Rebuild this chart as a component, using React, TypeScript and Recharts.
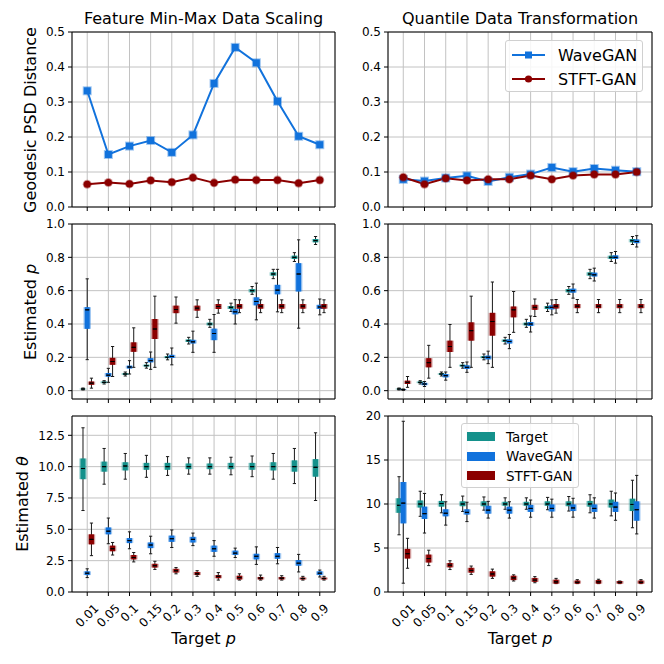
import React from "react";
import {
  ComposedChart, Line, Scatter, ErrorBar, XAxis, YAxis, CartesianGrid, ReferenceArea,
} from "recharts";

// Target p categories (x axis)
const P_LABELS = ["0.01", "0.05", "0.1", "0.15", "0.2", "0.3", "0.4", "0.5", "0.6", "0.7", "0.8", "0.9"];

// Geodesic PSD distance
const PSD_WAVE_MINMAX = [0.332, 0.150, 0.174, 0.190, 0.156, 0.206, 0.353, 0.456, 0.412, 0.302, 0.202, 0.178];
const PSD_STFT_MINMAX = [0.065, 0.070, 0.066, 0.076, 0.071, 0.084, 0.069, 0.078, 0.077, 0.077, 0.068, 0.077];
const PSD_WAVE_QUANT = [0.079, 0.074, 0.083, 0.089, 0.073, 0.085, 0.094, 0.113, 0.101, 0.110, 0.105, 0.101];
const PSD_STFT_QUANT = [0.085, 0.065, 0.082, 0.076, 0.079, 0.079, 0.090, 0.079, 0.090, 0.093, 0.093, 0.100];

// box stats: [whisker low, q1, median, q3, whisker high]
const P_TARGET = [
  [0.004, 0.008, 0.01, 0.012, 0.016], [0.04, 0.045, 0.05, 0.055, 0.06], [0.088, 0.095, 0.1, 0.105, 0.112],
  [0.135, 0.145, 0.15, 0.156, 0.168], [0.185, 0.195, 0.2, 0.207, 0.22], [0.28, 0.292, 0.3, 0.307, 0.32],
  [0.38, 0.392, 0.4, 0.408, 0.428], [0.475, 0.49, 0.5, 0.508, 0.525], [0.578, 0.59, 0.6, 0.61, 0.625],
  [0.672, 0.69, 0.7, 0.71, 0.728], [0.775, 0.79, 0.8, 0.81, 0.828], [0.877, 0.89, 0.9, 0.91, 0.925],
];
const P_WAVE_MINMAX = [
  [0.186, 0.371, 0.485, 0.501, 0.671], [0.05, 0.084, 0.093, 0.106, 0.134], [0.10, 0.133, 0.142, 0.150, 0.18],
  [0.128, 0.17, 0.18, 0.195, 0.232], [0.155, 0.196, 0.205, 0.215, 0.256], [0.23, 0.283, 0.293, 0.305, 0.357],
  [0.23, 0.303, 0.343, 0.372, 0.457], [0.40, 0.458, 0.473, 0.49, 0.546], [0.425, 0.512, 0.535, 0.56, 0.645],
  [0.473, 0.578, 0.603, 0.635, 0.728], [0.375, 0.595, 0.70, 0.765, 0.905], [0.455, 0.49, 0.502, 0.515, 0.55],
];
const P_STFT_MINMAX = [
  [0.015, 0.035, 0.045, 0.055, 0.075], [0.085, 0.155, 0.175, 0.197, 0.265], [0.14, 0.233, 0.26, 0.29, 0.377],
  [0.14, 0.31, 0.37, 0.43, 0.567], [0.405, 0.465, 0.487, 0.51, 0.562], [0.44, 0.48, 0.495, 0.51, 0.545],
  [0.465, 0.49, 0.505, 0.52, 0.545], [0.468, 0.492, 0.507, 0.52, 0.545], [0.468, 0.492, 0.507, 0.52, 0.545],
  [0.468, 0.492, 0.507, 0.52, 0.545], [0.468, 0.492, 0.507, 0.52, 0.545], [0.468, 0.492, 0.507, 0.52, 0.545],
];
const P_WAVE_QUANT = [
  [0.002, 0.004, 0.006, 0.008, 0.01], [0.025, 0.033, 0.04, 0.047, 0.055], [0.063, 0.08, 0.09, 0.1, 0.112],
  [0.11, 0.13, 0.14, 0.152, 0.172], [0.162, 0.188, 0.2, 0.21, 0.237], [0.252, 0.283, 0.295, 0.307, 0.337],
  [0.352, 0.388, 0.40, 0.412, 0.448], [0.455, 0.488, 0.50, 0.512, 0.545], [0.555, 0.588, 0.60, 0.612, 0.64],
  [0.658, 0.685, 0.695, 0.708, 0.735], [0.765, 0.79, 0.80, 0.812, 0.835], [0.862, 0.885, 0.895, 0.907, 0.93],
];
const P_STFT_QUANT = [
  [0.02, 0.04, 0.05, 0.06, 0.085], [0.075, 0.14, 0.168, 0.195, 0.272], [0.14, 0.232, 0.265, 0.3, 0.397],
  [0.14, 0.30, 0.36, 0.41, 0.567], [0.14, 0.33, 0.415, 0.467, 0.652], [0.35, 0.44, 0.485, 0.505, 0.595],
  [0.445, 0.485, 0.50, 0.515, 0.55], [0.465, 0.493, 0.507, 0.52, 0.547], [0.468, 0.495, 0.507, 0.52, 0.547],
  [0.468, 0.495, 0.507, 0.52, 0.547], [0.468, 0.495, 0.507, 0.52, 0.547], [0.468, 0.495, 0.507, 0.52, 0.547],
];

const T_TARGET = [
  [6.5, 9.0, 9.85, 10.65, 13.1], [8.6, 9.6, 10.0, 10.4, 11.45], [9.0, 9.7, 10.05, 10.35, 11.05],
  [9.15, 9.75, 10.0, 10.3, 10.9], [9.3, 9.75, 10.0, 10.3, 10.8], [9.4, 9.8, 10.0, 10.25, 10.7],
  [9.4, 9.8, 10.0, 10.25, 10.7], [9.35, 9.8, 10.0, 10.3, 10.75], [9.2, 9.75, 10.0, 10.3, 10.85],
  [9.0, 9.7, 10.0, 10.35, 11.05], [8.65, 9.6, 10.0, 10.5, 11.45], [7.3, 9.2, 9.95, 10.6, 12.7],
];
const T_WAVE_MINMAX = [
  [1.15, 1.35, 1.5, 1.65, 1.85], [3.85, 4.6, 4.85, 5.15, 5.9], [3.45, 3.9, 4.1, 4.3, 4.8],
  [3.05, 3.5, 3.75, 3.95, 4.45], [3.55, 4.0, 4.25, 4.5, 4.95], [3.7, 3.95, 4.2, 4.4, 4.7],
  [2.85, 3.2, 3.45, 3.7, 4.1], [2.75, 2.95, 3.1, 3.3, 3.5], [2.2, 2.6, 2.85, 3.05, 3.6],
  [2.25, 2.65, 2.85, 3.1, 3.55], [1.6, 2.1, 2.3, 2.55, 3.0], [1.2, 1.35, 1.5, 1.65, 1.75],
];
const T_STFT_MINMAX = [
  [2.9, 3.8, 4.2, 4.6, 5.5], [2.95, 3.25, 3.45, 3.7, 3.95], [2.4, 2.6, 2.75, 2.95, 3.15],
  [1.8, 1.95, 2.1, 2.25, 2.45], [1.45, 1.55, 1.7, 1.85, 1.95], [1.25, 1.35, 1.45, 1.6, 1.7],
  [0.95, 1.1, 1.25, 1.35, 1.55], [0.95, 1.0, 1.15, 1.3, 1.45], [0.95, 1.0, 1.1, 1.2, 1.35],
  [0.95, 1.0, 1.1, 1.2, 1.3], [0.95, 1.0, 1.08, 1.15, 1.25], [0.95, 1.0, 1.08, 1.15, 1.25],
];
const T_WAVE_QUANT = [
  [1.0, 7.8, 10.1, 12.5, 19.4], [6.7, 8.3, 8.9, 9.7, 11.2], [7.6, 8.6, 8.95, 9.4, 10.25],
  [8.0, 8.8, 9.05, 9.4, 10.2], [8.4, 8.9, 9.3, 9.8, 10.3], [8.4, 8.9, 9.3, 9.7, 10.25],
  [8.5, 9.1, 9.5, 9.9, 10.45], [8.5, 9.15, 9.5, 9.95, 10.55], [8.5, 9.2, 9.55, 9.95, 10.65],
  [8.4, 9.1, 9.5, 9.95, 10.7], [8.15, 9.1, 9.65, 10.25, 11.25], [6.6, 8.1, 9.35, 10.3, 13.25],
];
const T_STFT_QUANT = [
  [2.7, 3.8, 4.35, 4.9, 6.1], [3.0, 3.35, 3.8, 4.25, 4.75], [2.55, 2.8, 3.05, 3.3, 3.55],
  [2.0, 2.2, 2.45, 2.75, 2.95], [1.55, 1.75, 2.05, 2.35, 2.6], [1.25, 1.35, 1.6, 1.85, 1.95],
  [1.05, 1.15, 1.35, 1.6, 1.75], [0.95, 0.95, 1.15, 1.4, 1.55], [0.95, 0.95, 1.1, 1.3, 1.4],
  [0.95, 0.95, 1.15, 1.35, 1.45], [0.95, 0.95, 1.1, 1.25, 1.25], [0.95, 0.95, 1.1, 1.3, 1.4],
];

const FONT = '"DejaVu Sans", sans-serif';
const TEAL = "#14918b";
const BLUE = "#1172dc";
const RED = "#8b0000";
const GRID = "#c2c2c2";

const X_DOMAIN: [number, number] = [-0.72, 11.72];
const X_TICKS = P_LABELS.map((_, i) => i);
const COLS = [{ left: 72, right: 335 }, { left: 388, right: 652 }];
const ROWS = [{ top: 32, bottom: 207 }, { top: 224, bottom: 399 }, { top: 416, bottom: 592 }];
const YW = 60;
const XH = 40;

const charWidth = (s: string) => [...s].reduce((a, ch) => a + (ch === "." ? 0.318 : 0.636), 0);

function RotTick(props: any) {
  const { x, y, payload } = props;
  const label = P_LABELS[payload.value];
  const fs = 12;
  const d = ((charWidth(label) * fs + fs * 0.75) * Math.SQRT1_2) / 2;
  return (
    <text transform={`translate(${x},${y + 5 + d}) rotate(-45)`} textAnchor="middle"
      dominantBaseline="central" fontSize={fs} fontFamily={FONT} fill="#000">
      {label}
    </text>
  );
}

const squareDot = (p: any) => (
  <g key={`s${p.index}`}>
    <rect x={p.cx - 4.5} y={p.cy - 4.5} width={9} height={9} fill={BLUE} fillOpacity={0.4} />
    <rect x={p.cx - 3.5} y={p.cy - 3.5} width={7} height={7} fill={BLUE} />
  </g>
);
const circleDot = (p: any) => (
  <g key={`c${p.index}`}>
    <circle cx={p.cx} cy={p.cy} r={4.5} fill={RED} fillOpacity={0.4} />
    <circle cx={p.cx} cy={p.cy} r={3.6} fill={RED} />
  </g>
);

function chartMargin(col: number, row: number) {
  const c = COLS[col];
  const r = ROWS[row];
  return { top: r.top, left: c.left - YW, right: 664 - c.right, bottom: 664 - r.bottom - XH };
}

function axes(yDomain: [number, number], yTicks: number[], fmt: (v: number) => string, xLabels: boolean, yKey?: string) {
  return [
    <CartesianGrid key="g" stroke={GRID} strokeWidth={1} />,
    <XAxis key="x" type="number" dataKey="x" domain={X_DOMAIN} ticks={X_TICKS} interval={0}
      allowDataOverflow height={XH} axisLine={false} tickSize={4} tickLine={{ stroke: "#000" }}
      tick={xLabels ? RotTick : () => null} />,
    <YAxis key="y" type="number" dataKey={yKey} domain={yDomain} ticks={yTicks} interval={0}
      allowDataOverflow width={YW} axisLine={false} tickSize={4} tickMargin={3}
      tickLine={{ stroke: "#000" }} tickFormatter={fmt}
      tick={{ fontSize: 12, fill: "#000", fontFamily: FONT }} />,
    <ReferenceArea key="frame" x1={X_DOMAIN[0]} x2={X_DOMAIN[1]} y1={yDomain[0]} y2={yDomain[1]}
      fill="none" stroke="#000" strokeWidth={1} ifOverflow="visible" />,
  ];
}

function boxSeries(key: string, stats: number[][], offset: number, color: string) {
  const data = stats.map((s, i) => ({ x: i + offset, lo: s[0], q1: s[1], med: s[2], q3: s[3], hi: s[4] }));
  return (
    <Scatter key={key} name={key} data={data} isAnimationActive={false} shape={() => <g />}>
      <ErrorBar direction="y" dataKey={(d: any) => [d.med - d.lo, d.hi - d.med]} width={1.6}
        stroke="#1a1a1a" strokeWidth={1} isAnimationActive={false} />
      <ErrorBar direction="y" dataKey={(d: any) => [d.med - d.q1, d.q3 - d.med]} width={0}
        stroke={color} strokeOpacity={0.4} strokeWidth={7.5} isAnimationActive={false} />
      <ErrorBar direction="y" dataKey={(d: any) => [d.med - d.q1, d.q3 - d.med]} width={0}
        stroke={color} strokeWidth={5} isAnimationActive={false} />
      <ErrorBar direction="y" dataKey={() => [0, 0]} width={2} stroke="#000" strokeWidth={1}
        isAnimationActive={false} />
    </Scatter>
  );
}

const f1 = (v: number) => v.toFixed(1);
const f0 = (v: number) => String(v);

function PsdPanel({ col, wave, stft }: { col: number; wave: number[]; stft: number[] }) {
  const data = P_LABELS.map((_, i) => ({ x: i, wave: wave[i], stft: stft[i] }));
  return (
    <div style={{ position: "absolute", left: 0, top: 0 }}>
      <ComposedChart width={664} height={664} data={data} margin={chartMargin(col, 0)}>
        {axes([0, 0.5], [0, 0.1, 0.2, 0.3, 0.4, 0.5], f1, false)}
        <Line dataKey="wave" stroke={BLUE} strokeWidth={2} dot={squareDot} isAnimationActive={false} />
        <Line dataKey="stft" stroke={RED} strokeWidth={2} dot={circleDot} isAnimationActive={false} />
      </ComposedChart>
    </div>
  );
}

function BoxPanel(props: {
  col: number; row: number; yDomain: [number, number]; yTicks: number[]; fmt: (v: number) => string;
  target: number[][]; wave: number[][]; stft: number[][];
}) {
  const { col, row, yDomain, yTicks, fmt, target, wave, stft } = props;
  return (
    <div style={{ position: "absolute", left: 0, top: 0 }}>
      <ComposedChart width={664} height={664} margin={chartMargin(col, row)}>
        {axes(yDomain, yTicks, fmt, row === 2, "med")}
        {boxSeries("Target", target, -0.2, TEAL)}
        {boxSeries("WaveGAN", wave, 0, BLUE)}
        {boxSeries("STFT-GAN", stft, 0.2, RED)}
      </ComposedChart>
    </div>
  );
}

function Txt({ x, y, rotate, children }: { x: number; y: number; rotate?: boolean; children: React.ReactNode }) {
  return (
    <div style={{
      position: "absolute", left: x, top: y, fontFamily: FONT, fontSize: 16, lineHeight: 1,
      whiteSpace: "nowrap", color: "#000",
      transform: `translate(-50%, -50%)${rotate ? " rotate(-90deg)" : ""}`,
    }}>
      {children}
    </div>
  );
}

const LINE_LEGEND = [
  { name: "WaveGAN", color: BLUE, marker: "square" },
  { name: "STFT-GAN", color: RED, marker: "circle" },
];
const BOX_LEGEND = [
  { name: "Target", color: TEAL },
  { name: "WaveGAN", color: BLUE },
  { name: "STFT-GAN", color: RED },
];

const legendBox: React.CSSProperties = {
  position: "absolute", background: "rgba(255,255,255,0.85)", border: "1px solid #d0d0d0",
  borderRadius: 3, fontFamily: FONT, boxSizing: "border-box",
};

export default function App() {
  return (
    <div style={{ position: "absolute", left: 0, top: 0, width: 664, height: 664, background: "#fff", overflow: "hidden" }}>
      <PsdPanel col={0} wave={PSD_WAVE_MINMAX} stft={PSD_STFT_MINMAX} />
      <PsdPanel col={1} wave={PSD_WAVE_QUANT} stft={PSD_STFT_QUANT} />
      <BoxPanel col={0} row={1} yDomain={[-0.05, 1.0]} yTicks={[0, 0.2, 0.4, 0.6, 0.8, 1.0]} fmt={f1}
        target={P_TARGET} wave={P_WAVE_MINMAX} stft={P_STFT_MINMAX} />
      <BoxPanel col={1} row={1} yDomain={[-0.05, 1.0]} yTicks={[0, 0.2, 0.4, 0.6, 0.8, 1.0]} fmt={f1}
        target={P_TARGET} wave={P_WAVE_QUANT} stft={P_STFT_QUANT} />
      <BoxPanel col={0} row={2} yDomain={[0, 14.04]} yTicks={[0, 2.5, 5, 7.5, 10, 12.5]} fmt={f1}
        target={T_TARGET} wave={T_WAVE_MINMAX} stft={T_STFT_MINMAX} />
      <BoxPanel col={1} row={2} yDomain={[0, 20]} yTicks={[0, 5, 10, 15, 20]} fmt={f0}
        target={T_TARGET} wave={T_WAVE_QUANT} stft={T_STFT_QUANT} />

      <Txt x={203.5} y={19}>Feature Min-Max Data Scaling</Txt>
      <Txt x={520} y={19}>Quantile Data Transformation</Txt>
      <Txt x={31} y={119.5} rotate>Geodesic PSD Distance</Txt>
      <Txt x={31} y={311.5} rotate>Estimated <i>p</i></Txt>
      <Txt x={23} y={504} rotate>Estimated <i>θ</i></Txt>
      <Txt x={203.5} y={639}>Target <i>p</i></Txt>
      <Txt x={520} y={639}>Target <i>p</i></Txt>

      <div style={{ ...legendBox, left: 505, top: 40, width: 138, height: 52, fontSize: 16 }}>
        {LINE_LEGEND.map((it, i) => (
          <div key={it.name} style={{ position: "absolute", left: 6, top: 4 + i * 24, height: 20, display: "flex", alignItems: "center" }}>
            <svg width={33} height={12} style={{ marginRight: 13 }}>
              <line x1={0} x2={33} y1={6} y2={6} stroke={it.color} strokeWidth={2} />
              {it.marker === "square"
                ? <rect x={13} y={2.5} width={7} height={7} fill={it.color} />
                : <circle cx={16.5} cy={6} r={3.6} fill={it.color} />}
            </svg>
            <span>{it.name}</span>
          </div>
        ))}
      </div>

      <div style={{ ...legendBox, left: 461, top: 423, width: 118, height: 65, fontSize: 13.5 }}>
        {BOX_LEGEND.map((it, i) => (
          <div key={it.name} style={{ position: "absolute", left: 5, top: 4 + i * 19.5, height: 17, display: "flex", alignItems: "center" }}>
            <div style={{ width: 28, height: 9, background: it.color, marginRight: 11 }} />
            <span>{it.name}</span>
          </div>
        ))}
      </div>
    </div>
  );
}
